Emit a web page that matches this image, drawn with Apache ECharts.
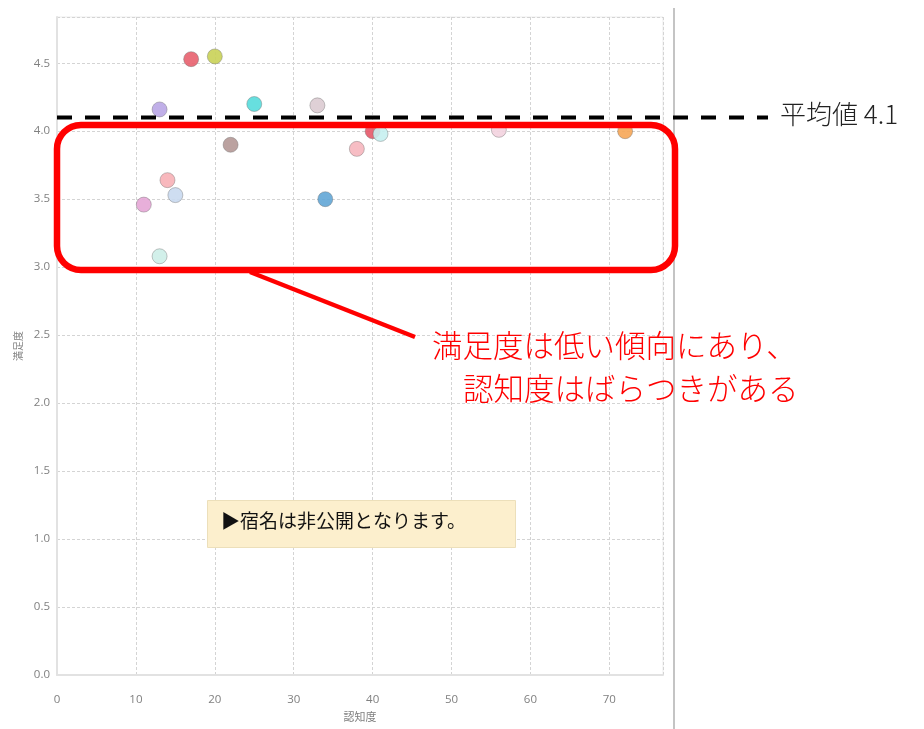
<!DOCTYPE html>
<html>
<head>
<meta charset="utf-8">
<script src="https://cdn.jsdelivr.net/npm/echarts@6/dist/echarts.min.js"></script>
<style>
  html, body { margin: 0; padding: 0; background: #ffffff; }
  #chart { width: 924px; height: 729px; }
</style>
</head>
<body>
<div id="chart"></div>
<script>
// 認知度 (x) と 満足度 (y) の宿別プロット
const awareness    = [13, 17, 20, 25, 33, 22, 14, 15, 11, 13, 34, 40, 41, 38, 56, 72];
const satisfaction = [4.16, 4.53, 4.55, 4.20, 4.19, 3.90, 3.64, 3.53, 3.46, 3.08, 3.50, 4.00, 3.98, 3.87, 4.01, 4.00];
const pointColors  = ['#b9a6e6', '#e8606e', '#c9d256', '#56dcdc', '#dccbd2', '#b49896', '#f7b0b6', '#c9d9ef',
                      '#e6a6d6', '#cdeee8', '#62a6d6', '#e65868', '#c6efef', '#f6b6be', '#f3d3df', '#f6a656'];
const averageSatisfaction = 4.1;
const yTicks = [0, 0.5, 1, 1.5, 2, 2.5, 3, 3.5, 4, 4.5];

const points = awareness.map((x, i) => [x, satisfaction[i]]);

const chart = echarts.init(document.getElementById('chart'), null, { renderer: 'canvas' });

const axisFont = 'Open Sans, Noto Sans, sans-serif';

chart.setOption({
  animation: false,
  backgroundColor: '#ffffff',
  grid: {
    left: 57, right: 261, top: 17, bottom: 54,
    show: true, borderColor: '#ececec', borderWidth: 1
  },
  xAxis: {
    type: 'value',
    min: 0, max: 76.8, interval: 10,
    offset: 10,
    name: '認知度',
    nameLocation: 'middle',
    nameGap: 25,
    nameTextStyle: { color: '#808080', fontSize: 11, fontFamily: 'Noto Sans CJK JP' },
    axisLine: { show: true, lineStyle: { color: '#e2e2e2', width: 2 } },
    axisTick: { show: false },
    axisLabel: {
      color: '#808080', fontSize: 11.5, fontFamily: axisFont, margin: 9,
      showMaxLabel: false
    },
    splitLine: { show: true, lineStyle: { color: '#d4d4d4', type: [3, 2], width: 1 } }
  },
  yAxis: {
    type: 'value',
    min: yTicks[0], max: 4.84, interval: 0.5,
    name: '満足度',
    nameLocation: 'middle',
    nameGap: 34,
    nameRotate: 90,
    nameTextStyle: { color: '#808080', fontSize: 10, fontFamily: 'Noto Sans CJK JP' },
    axisLine: { show: true, lineStyle: { color: '#e2e2e2', width: 2 } },
    axisTick: { show: false },
    axisLabel: {
      color: '#808080', fontSize: 11.5, fontFamily: axisFont, margin: 7,
      showMaxLabel: false,
      formatter: v => v.toFixed(1)
    },
    splitLine: { show: true, lineStyle: { color: '#d4d4d4', type: [3, 2], width: 1 } }
  },
  series: [{
    type: 'scatter',
    data: points,
    symbol: 'circle',
    symbolSize: 15,
    itemStyle: {
      color: p => pointColors[p.dataIndex],
      borderColor: 'rgba(110,110,110,0.45)',
      borderWidth: 1,
      opacity: 0.9
    }
  }]
});

// 平均値ライン・注釈の描画
const avgY = chart.convertToPixel({ yAxisIndex: 0 }, averageSatisfaction);
const plotLeft = chart.convertToPixel({ xAxisIndex: 0 }, 0);

chart.setOption({
  graphic: [
    // 右側の区切り線
    { type: 'line', shape: { x1: 674, y1: 8, x2: 674, y2: 729 },
      style: { stroke: '#c4c4c4', lineWidth: 2 }, z: 50 },
    // 平均値
    { type: 'line', shape: { x1: plotLeft, y1: avgY, x2: 768, y2: avgY },
      style: { stroke: '#000000', lineWidth: 4, lineDash: [15, 13] }, z: 60 },
    { type: 'text', left: 780, top: avgY - 16,
      style: { text: '平均値 4.1', fill: '#222222', fontSize: 26,
               fontFamily: 'Noto Sans CJK JP', fontWeight: 300 }, z: 60 },
    // 注目範囲の枠
    { type: 'rect', shape: { x: 57, y: 125, width: 618, height: 145, r: 24 },
      style: { fill: 'none', stroke: '#ff0000', lineWidth: 6.5 }, z: 70 },
    { type: 'line', shape: { x1: 250, y1: 272, x2: 415, y2: 337 },
      style: { stroke: '#ff0000', lineWidth: 4.5 }, z: 70 },
    { type: 'text', left: 432, top: 330,
      style: { text: '満足度は低い傾向にあり、', fill: '#ff0000', fontSize: 30.5,
               fontFamily: 'Noto Sans CJK JP', fontWeight: 300 }, z: 70 },
    { type: 'text', left: 463, top: 373,
      style: { text: '認知度はばらつきがある', fill: '#ff0000', fontSize: 30.5,
               fontFamily: 'Noto Sans CJK JP', fontWeight: 300 }, z: 70 },
    // 非公開の注記
    { type: 'rect', shape: { x: 207.5, y: 500.5, width: 308, height: 47 },
      style: { fill: '#fcefcd', stroke: '#ecdfba', lineWidth: 1 }, z: 65 },
    { type: 'text', left: 221, top: 511,
      style: { text: '▶宿名は非公開となります。', fill: '#111111', fontSize: 19,
               fontFamily: 'Noto Sans CJK JP' }, z: 66 }
  ]
});
</script>
</body>
</html>
